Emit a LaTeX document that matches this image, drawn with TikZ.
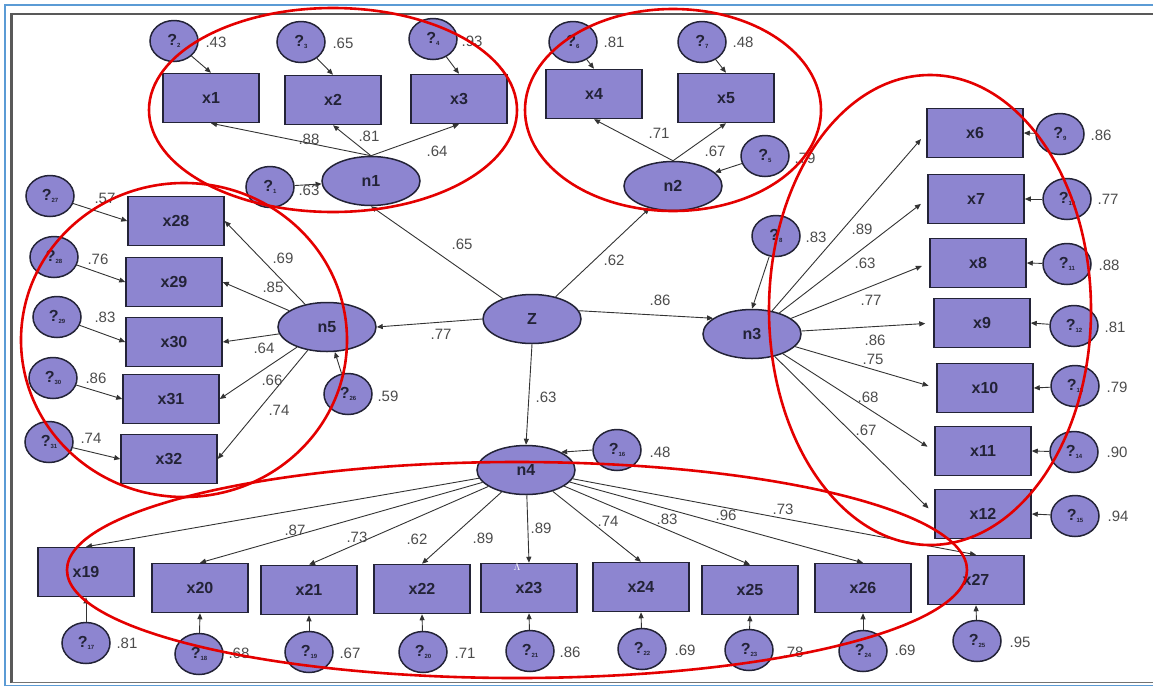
\documentclass[tikz,border=0pt]{standalone}
\usepackage{fontspec}
\setmainfont{Liberation Sans}
\usepackage{tikz}
\usetikzlibrary{positioning, arrows.meta, shapes.geometric}
\usepackage{xcolor}

\definecolor{amosfill}{RGB}{141,133,208}
\definecolor{amosline}{RGB}{35,35,55}
\definecolor{ringred}{RGB}{228,0,0}
\definecolor{frameblue}{RGB}{91,155,213}

% error term: question mark with a small index
\newcommand{\errlbl}[1]{?\raisebox{-2.5pt}{\fontsize{6}{6}\selectfont #1}}

\begin{document}
\begin{tikzpicture}[x=1pt, y=-1pt,
    obs/.style={draw=amosline, line width=1.5pt, fill=amosfill, minimum width=96pt, minimum height=49pt, inner sep=0pt, font=\bfseries\fontsize{16}{16}\selectfont, text=amosline},
    lat/.style={ellipse, draw=amosline, line width=1.5pt, fill=amosfill, minimum width=98pt, minimum height=49pt, inner sep=0pt, font=\bfseries\fontsize{16}{16}\selectfont, text=amosline},
    err/.style={ellipse, draw=amosline, line width=1.5pt, fill=amosfill, minimum width=48pt, minimum height=41pt, inner sep=0pt, font=\bfseries\fontsize{16}{16}\selectfont, text=amosline},
    arr/.style={-{Triangle[length=6pt, width=5pt]}, line width=0.9pt, draw=black!80},
    coef/.style={font=\fontsize{15}{15}\selectfont, text=black!70},
    ring/.style={draw=ringred, line width=2.6pt}]

    \useasboundingbox (0,0) rectangle (1153,686);

    % window frame
    \draw[frameblue, line width=1.6pt] (5,686) -- (5,5) -- (1153,5);
    \draw[frameblue, line width=1.6pt] (5,685.5) -- (1153,685.5);
    \draw[black!65, line width=2.2pt] (11.5,683) -- (11.5,14) -- (1153,14);
    \draw[black!55, line width=1.6pt] (11.5,682.5) -- (1153,682.5);

    % latent variables
    \node[lat] (Z) at (532,319) {Z};
    \node[lat] (n1) at (371,181) {n1};
    \node[lat] (n2) at (673,186) {n2};
    \node[lat] (n3) at (752,334) {n3};
    \node[lat] (n4) at (526,470) {n4};
    \node[lat] (n5) at (327,327) {n5};

    % observed variables, top row
    \node[obs] (x1) at (211,98) {x1};
    \node[obs] (x2) at (333,100) {x2};
    \node[obs] (x3) at (459,99) {x3};
    \node[obs] (x4) at (594,94) {x4};
    \node[obs] (x5) at (726,98) {x5};

    % observed variables, right column
    \node[obs] (x6) at (975,133) {x6};
    \node[obs] (x7) at (976,199) {x7};
    \node[obs] (x8) at (978,263) {x8};
    \node[obs] (x9) at (982,323) {x9};
    \node[obs] (x10) at (985,388) {x10};
    \node[obs] (x11) at (983,451) {x11};
    \node[obs] (x12) at (983,514) {x12};

    % observed variables, bottom row
    \node[obs] (x19) at (86,572) {x19};
    \node[obs] (x20) at (200,588) {x20};
    \node[obs] (x21) at (309,590) {x21};
    \node[obs] (x22) at (422,589) {x22};
    \node[obs] (x23) at (529,588) {x23};
    \node[obs] (x24) at (641,587) {x24};
    \node[obs] (x25) at (750,590) {x25};
    \node[obs] (x26) at (863,588) {x26};
    \node[obs] (x27) at (976,580) {x27};

    % observed variables, left column
    \node[obs] (x28) at (176,221) {x28};
    \node[obs] (x29) at (174,282) {x29};
    \node[obs] (x30) at (174,342) {x30};
    \node[obs] (x31) at (171,399) {x31};
    \node[obs] (x32) at (169,459) {x32};

    % error terms
    \node[err] (e1) at (270,187) {\errlbl{1}};
    \node[err] (e2) at (174,41) {\errlbl{2}};
    \node[err] (e3) at (301,42) {\errlbl{3}};
    \node[err] (e4) at (433,39) {\errlbl{4}};
    \node[err] (e5) at (765,156) {\errlbl{5}};
    \node[err] (e6) at (573,42) {\errlbl{6}};
    \node[err] (e7) at (702,42) {\errlbl{7}};
    \node[err] (e8) at (776,236) {\errlbl{8}};
    \node[err] (e9) at (1060,134) {\errlbl{9}};
    \node[err] (e10) at (1067,199) {\errlbl{10}};
    \node[err] (e11) at (1067,264) {\errlbl{11}};
    \node[err] (e12) at (1074,326) {\errlbl{12}};
    \node[err] (e13) at (1075,386) {\errlbl{13}};
    \node[err] (e14) at (1074,452) {\errlbl{14}};
    \node[err] (e15) at (1075,516) {\errlbl{15}};
    \node[err] (e16) at (617,450) {\errlbl{16}};
    \node[err] (e17) at (86,643) {\errlbl{17}};
    \node[err] (e18) at (199,654) {\errlbl{18}};
    \node[err] (e19) at (309,652) {\errlbl{19}};
    \node[err] (e20) at (423,652) {\errlbl{20}};
    \node[err] (e21) at (530,651) {\errlbl{21}};
    \node[err] (e22) at (642,649) {\errlbl{22}};
    \node[err] (e23) at (749,650) {\errlbl{23}};
    \node[err] (e24) at (863,651) {\errlbl{24}};
    \node[err] (e25) at (977,641) {\errlbl{25}};
    \node[err] (e26) at (348,394) {\errlbl{26}};
    \node[err] (e27) at (50,196) {\errlbl{27}};
    \node[err] (e28) at (54,257) {\errlbl{28}};
    \node[err] (e29) at (57,317) {\errlbl{29}};
    \node[err] (e30) at (53,378) {\errlbl{30}};
    \node[err] (e31) at (49,442) {\errlbl{31}};

    % structural paths from Z
    \draw[arr] (Z) -- (n1.south);
    \draw[arr] (Z) -- (n2);
    \draw[arr] (Z.10) -- (n3.158);
    \draw[arr] (Z.west) -- (n5.east);
    \draw[arr] (Z.south) -- (n4.north);

    % loadings
    \draw[arr] (n1.north) -- (x1.south);
    \draw[arr] (n1.north) -- (x2.south);
    \draw[arr] (n1.north) -- (x3.south);
    \draw[arr] (n2.north) -- (x4.south);
    \draw[arr] (n2.north) -- (x5.south);
    \draw[arr, shorten >=8pt] (n3) -- (x6.west);
    \draw[arr, shorten >=8pt] (n3) -- (x7.west);
    \draw[arr, shorten >=8pt] (n3) -- (x8.west);
    \draw[arr, shorten >=8pt] (n3) -- (x9.west);
    \draw[arr, shorten >=8pt] (n3) -- (x10.west);
    \draw[arr, shorten >=8pt] (n3) -- (x11.west);
    \draw[arr, shorten >=8pt] (n3) -- (x12.west);
    \draw[arr] (n4) -- (x19.north);
    \draw[arr] (n4) -- (x20.north);
    \draw[arr] (n4) -- (x21.north);
    \draw[arr] (n4) -- (x22.north);
    \draw[arr] (n4) -- (x23.north);
    \draw[arr] (n4) -- (x24.north);
    \draw[arr] (n4) -- (x25.north);
    \draw[arr] (n4) -- (x26.north);
    \draw[arr] (n4) -- (x27.north);
    \draw[arr] (n5) -- (x28.east);
    \draw[arr] (n5) -- (x29.east);
    \draw[arr] (n5) -- (x30.east);
    \draw[arr] (n5) -- (x31.east);
    \draw[arr] (n5) -- (x32.east);

    % error paths
    \draw[arr] (e1) -- (n1);
    \draw[arr] (e5) -- (n2);
    \draw[arr] (e8) -- (n3.north);
    \draw[arr] (e16.west) -- (n4.north east);
    \draw[arr] (e26) -- (n5);
    \draw[arr] (e2) -- (x1.north);
    \draw[arr] (e3) -- (x2.north);
    \draw[arr] (e4) -- (x3.north);
    \draw[arr] (e6) -- (x4.north);
    \draw[arr] (e7) -- (x5.north);
    \draw[arr] (e9) -- (x6.east);
    \draw[arr] (e10) -- (x7.east);
    \draw[arr] (e11) -- (x8.east);
    \draw[arr] (e12) -- (x9.east);
    \draw[arr] (e13) -- (x10.east);
    \draw[arr] (e14) -- (x11.east);
    \draw[arr] (e15) -- (x12.east);
    \draw[arr] (e17) -- (x19.south);
    \draw[arr] (e18) -- (x20.south);
    \draw[arr] (e19) -- (x21.south);
    \draw[arr] (e20) -- (x22.south);
    \draw[arr] (e21) -- (x23.south);
    \draw[arr] (e22) -- (x24.south);
    \draw[arr] (e23) -- (x25.south);
    \draw[arr] (e24) -- (x26.south);
    \draw[arr] (e25) -- (x27.south);
    \draw[arr] (e27) -- (x28.west);
    \draw[arr] (e28) -- (x29.west);
    \draw[arr] (e29) -- (x30.west);
    \draw[arr] (e30) -- (x31.west);
    \draw[arr] (e31) -- (x32.west);

    % squared multiple correlations
    \node[coef] at (216,42) {.43};
    \node[coef] at (343,43) {.65};
    \node[coef] at (472,41) {.93};
    \node[coef] at (614,42) {.81};
    \node[coef] at (743,42) {.48};
    \node[coef] at (805,158) {.79};
    \node[coef] at (309,190) {.63};
    \node[coef] at (105,198) {.57};
    \node[coef] at (98,259) {.76};
    \node[coef] at (105,317) {.83};
    \node[coef] at (96,378) {.86};
    \node[coef] at (91,438) {.74};
    \node[coef] at (388,396) {.59};
    \node[coef] at (816,237) {.83};
    \node[coef] at (1101,135) {.86};
    \node[coef] at (1108,199) {.77};
    \node[coef] at (1109,265) {.88};
    \node[coef] at (1115,327) {.81};
    \node[coef] at (1117,387) {.79};
    \node[coef] at (1117,452) {.90};
    \node[coef] at (1118,516) {.94};
    \node[coef] at (1020,642) {.95};
    \node[coef] at (905,650) {.69};
    \node[coef] at (793,652) {.78};
    \node[coef] at (685,650) {.69};
    \node[coef] at (570,652) {.86};
    \node[coef] at (465,653) {.71};
    \node[coef] at (350,653) {.67};
    \node[coef] at (239,653) {.68};
    \node[coef] at (127,643) {.81};
    \node[coef] at (660,452) {.48};

    % standardized weights
    \node[coef] at (309,139) {.88};
    \node[coef] at (369,136) {.81};
    \node[coef] at (437,151) {.64};
    \node[coef] at (659,133) {.71};
    \node[coef] at (715,151) {.67};
    \node[coef] at (462,244) {.65};
    \node[coef] at (614,260) {.62};
    \node[coef] at (660,300) {.86};
    \node[coef] at (441,334) {.77};
    \node[coef] at (546,397) {.63};
    \node[coef] at (283,258) {.69};
    \node[coef] at (273,287) {.85};
    \node[coef] at (264,348) {.64};
    \node[coef] at (272,380) {.66};
    \node[coef] at (279,410) {.74};
    \node[coef] at (862,229) {.89};
    \node[coef] at (865,263) {.63};
    \node[coef] at (871,300) {.77};
    \node[coef] at (875,340) {.86};
    \node[coef] at (873,359) {.75};
    \node[coef] at (868,397) {.68};
    \node[coef] at (866,430) {.67};
    \node[coef] at (295,530) {.87};
    \node[coef] at (357,537) {.73};
    \node[coef] at (417,539) {.62};
    \node[coef] at (483,538) {.89};
    \node[coef] at (541,528) {.89};
    \node[coef] at (608,521) {.74};
    \node[coef] at (667,519) {.83};
    \node[coef] at (726,515) {.96};
    \node[coef] at (783,509) {.73};

    \node[text=white, font=\fontsize{10}{10}\selectfont] (mark) at (517,567) {$\Lambda$};

    % red groupings
    \draw[ring] (333,110) ellipse [x radius=184pt, y radius=102pt];
    \draw[ring] (673,110) ellipse [x radius=148pt, y radius=101pt];
    \draw[ring] (930,310) ellipse [x radius=161pt, y radius=235pt];
    \draw[ring] (184,340) ellipse [x radius=163pt, y radius=157pt];
    \draw[ring] (517,570) ellipse [x radius=450pt, y radius=108pt];
\end{tikzpicture}
\end{document}
